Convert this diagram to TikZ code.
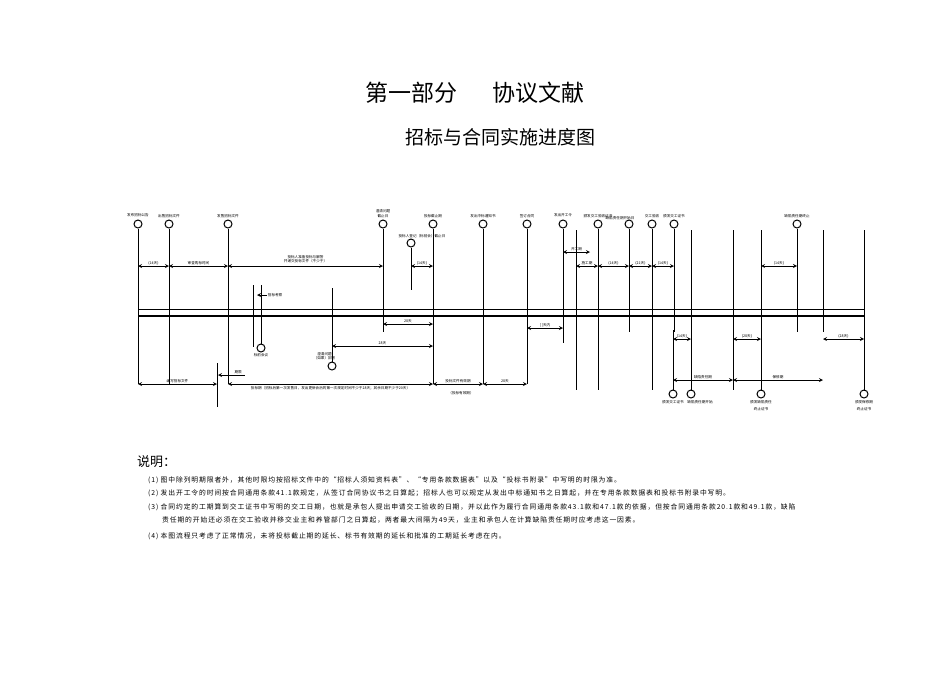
\documentclass[tikz,border=0pt]{standalone}
\usepackage{fontspec}
\setmainfont{Liberation Serif}
\newfontfamily\cjk{Noto Sans CJK SC}
\newfontfamily\cjknote[LetterSpace=13]{Noto Sans CJK SC}
\begin{document}
\begin{tikzpicture}[x=1pt,y=-1pt,
  vl/.style={line width=1pt},
  circ/.style={circle,draw,line width=1pt,minimum size=8pt,inner sep=0pt},
  dim/.style={line width=0.8pt,<->,>=stealth},
  lab/.style={font=\cjk\fontsize{3.6}{4.4}\selectfont,inner sep=0.5pt,align=center},
  note/.style={font=\cjknote\fontsize{6.8}{7.5}\selectfont,anchor=west,inner sep=0pt}]
\useasboundingbox (0,0) rectangle (950,672);
\node[font=\cjk\fontsize{23}{26}\selectfont] (t1) at (475,93) {第一部分\hspace{1.5em}协议文献};
\node[font=\cjk\fontsize{19}{22}\selectfont] (t2) at (500,137) {招标与合同实施进度图};
% circles with top labels
\foreach \n/\x/\y/\t in {a/138/224/发布招标公告, b/169/224/出售招标文件, c/228/224/发售招标文件,
  d/383/224/澄清问题\\截止日, f/433/224/投标截止期, g/483/224/发出中标通知书, h/527/224/签订合同,
  i/563/224/发出开工令, j/598/224/颁发交工验收证书, l/652/224/交工验收, m/674/224/颁发交工证书, n/797/224/缺陷责任期终止}
  {\node[circ] (\n) at (\x,\y) {};
   \node[lab,anchor=south] (\n L) at (\x,\y-6) {\t};}
\node[circ] (k) at (629,224) {};
\node[lab,anchor=south] (kL) at (620,220) {缺陷责任期开始日};
\node[circ] (e) at (411,243) {};
\node[lab] (eL) at (422,236) {投标人登记（标前会）截止日};
% vertical lines
\foreach \n/\b in {a/384,b/384,c/384,f/384,g/384,h/384,i/343,j/390,l/390,m/332,n/332}
  \draw[vl] (\n.south) -- (\n.south |- 0,\b);
\draw[vl] (d.south) -- (383,332);
\draw[vl] (e.south) -- (411,290);
\draw[vl] (k.south) -- (629,332);
\foreach \x/\a/\b in {576/230/390,691/230/391,733/230/390,761/230/391,823/230/332,864/230/391}
  \draw[vl] (\x,\a) -- (\x,\b);
% double horizontal
\draw[line width=0.8pt] (138,309) -- (864,309);
\draw[line width=1.2pt] (138,316) -- (864,316);
% top dims
\draw[dim] (138,266) -- node[lab,above]{(14天)} (169,266);
\draw[dim] (169,266) -- node[lab,above]{审查购标时间} (228,266);
\draw[dim] (228,266) -- node[lab,above,yshift=2pt]{投标人准备投标与解答\\并递交投标文件（不少于）} (383,266);
\draw[dim] (411,266) -- node[lab,above]{(14天)} (433,266);
\draw[dim] (563,252) -- node[lab,above]{开工期} (590,252);
\draw[dim] (576,266) -- node[lab,above]{施工期} (598,266);
\draw[dim] (598,266) -- node[lab,above]{(14天)} (629,266);
\draw[dim] (629,266) -- node[lab,above]{(21天)} (652,266);
\draw[dim] (652,266) -- node[lab,above]{(14天)} (674,266);
\draw[dim] (761,266) -- node[lab,above]{(14天)} (797,266);
% bid inspection & pre-bid meeting
\draw[vl] (253,285) -- (253,347);
\draw[vl] (261,285) -- (261,344);
\node[circ] (p) at (261,348) {};
\node[lab,anchor=north] (pL) at (261,353) {标前会议};
\draw[line width=0.8pt,<-,>=stealth] (257,295) -- (267,295) node[lab,right]{招标考察};
\node[circ] (q) at (332,366) {};
\draw[vl] (332,288) -- (q.north);
\node[lab,anchor=east] (qL) at (336,356) {澄清问题\\（如果）回答};
% middle dims
\draw[dim] (383,324) -- node[lab,above]{28天} (433,324);
\draw[dim] (332,346) -- node[lab,above]{28天} (433,346);
\draw[dim] (527,328) -- node[lab,above]{[ ]天内} (563,328);
\draw[dim] (673,339) -- node[lab,above]{(14天)} (691,339);
\draw[dim] (733,339) -- node[lab,above]{(28天)} (761,339);
\draw[dim] (823,339) -- node[lab,above]{(28天)} (864,339);
% bottom dims
\draw[vl] (217,363) -- (217,407);
\draw[dim] (138,384) -- node[lab,above]{编写招标文件} (217,384);
\draw[line width=0.8pt,->,>=stealth] (228,375) -- (218,375);
\draw[line width=0.8pt] (228,375) -- (245,375) node[lab,above,pos=0.6]{期限};
\draw[dim] (228,384) -- node[lab,below,yshift=-2pt]{投标期（招标后第一次发售日，发出更新会后的第一次规定时间不少于28天；其余日期不少于20天）} (433,384);
\draw[dim] (433,384) -- node[lab,above]{投标文件有效期} (483,384);
\node[lab] (fy) at (461,393) {（投标有效期）};
\draw[dim] (483,384) -- node[lab,above]{28天} (527,384);
\draw[dim] (673,380) -- node[lab,above]{缺陷责任期} (733,380);
\draw[dim] (733,380) -- node[lab,above]{保修期} (823,380);
% bottom circles
\node[circ] (r1) at (673,394) {}; \draw[vl] (673,330) -- (r1.north);
\node[circ] (r2) at (691,394) {};
\node[circ] (r3) at (761,394) {};
\node[circ] (r4) at (864,394) {};
\node[lab,anchor=north] at (673,400) {颁发交工证书};
\node[lab,anchor=north] at (700,400) {缺陷责任期开始};
\node[lab,anchor=north] at (761,400) {颁发缺陷责任\\[2pt]终止证书};
\node[lab,anchor=north] at (864,400) {颁发保修期\\[2pt]终止证书};
% notes
\node[font=\cjk\fontsize{13}{15}\selectfont,anchor=west,inner sep=0pt] (sm) at (137,462) {说明：};
\node[note] at (148,480) {(1) 图中除列明期限者外，其他时限均按招标文件中的“招标人须知资料表”、“专用条款数据表”以及“投标书附录”中写明的时限为准。};
\node[note] at (148,493) {(2) 发出开工令的时间按合同通用条款41.1款规定，从签订合同协议书之日算起；招标人也可以规定从发出中标通知书之日算起，并在专用条款数据表和投标书附录中写明。};
\node[note] at (148,507) {(3) 合同约定的工期算到交工证书中写明的交工日期，也就是承包人提出申请交工验收的日期，并以此作为履行合同通用条款43.1款和47.1款的依据，但按合同通用条款20.1款和49.1款，缺陷};
\node[note] at (162,520) {责任期的开始还必须在交工验收并移交业主和养管部门之日算起，两者最大间隔为49天，业主和承包人在计算缺陷责任期时应考虑这一因素。};
\node[note] at (148,536) {(4) 本图流程只考虑了正常情况，未将投标截止期的延长、标书有效期的延长和批准的工期延长考虑在内。};
\end{tikzpicture}
\end{document}
